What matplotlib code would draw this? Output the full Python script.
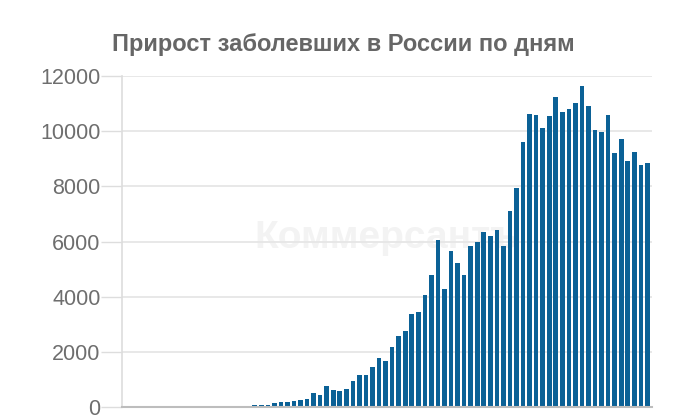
import pandas as pd
import matplotlib.pyplot as plt

plt.rcParams['font.family'] = ['Liberation Sans', 'DejaVu Sans']

# Daily new cases, 2 March - 21 May 2020
dates = pd.date_range('2020-03-02', '2020-05-21', freq='D')
march = [1, 0, 0, 1, 6, 4, 3, 0, 3, 8, 6, 11, 14, 4, 30, 21, 33, 52, 54, 53,
         61, 71, 57, 163, 182, 196, 228, 270, 302, 501]
april = [440, 771, 601, 582, 658, 954, 1154, 1175, 1459, 1786, 1667, 2186,
         2558, 2774, 3388, 3448, 4070, 4785, 6060, 4268, 5642, 5236, 4774,
         5849, 5966, 6361, 6198, 6411, 5841, 7099]
may = [7933, 9623, 10633, 10581, 10102, 10559, 11231, 10699, 10817, 11012,
       11656, 10899, 10028, 9974, 10598, 9200, 9709, 8926, 9263, 8764, 8849]
cases = march + april + may

yticks = [0, 2000, 4000, 6000, 8000, 10000, 12000]

title = 'Прирост заболевших в России по дням'
watermark = 'Коммерсантъ'

df = pd.DataFrame({'date': dates, 'cases': cases})

fig = plt.figure(figsize=(6.8, 4.18), dpi=100)
ax = fig.add_axes([0.1787, 0.0263, 0.7801, 0.7917])

ax.bar(range(len(df)), df['cases'], width=0.7, color='#0b6196', zorder=3)

ax.set_xlim(-0.35, len(df) - 0.3)
ax.set_ylim(0, 12000)
ax.set_yticks(yticks)
ax.set_yticklabels([str(t) for t in yticks], fontsize=15.5, color='#6e6e6e')
ax.tick_params(axis='y', length=15, width=1, color='#dddddd', pad=0)
ax.set_xticks([])
ax.grid(axis='y', color='#e6e6e6', linewidth=1.3, zorder=0)

for side in ['top', 'right']:
    ax.spines[side].set_visible(False)
ax.spines['left'].set_color('#dddddd')
ax.spines['left'].set_linewidth(1.2)
ax.spines['bottom'].set_color('#bdbdbd')
ax.spines['bottom'].set_linewidth(1.5)
ax.spines['bottom'].set_zorder(4)

ax.text(0.5, 0.51, watermark, transform=ax.transAxes, ha='center', va='center',
        fontsize=28, fontweight='bold', color='#f3f3f3', zorder=1)

fig.text(0.505, 0.893, title, ha='center', va='center', fontsize=17,
         fontweight='bold', color='#666666')

fig.savefig('out.png', dpi=100)
